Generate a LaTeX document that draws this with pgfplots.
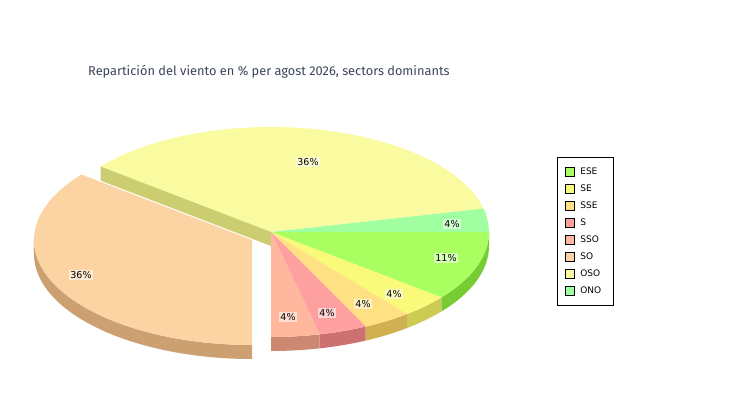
\documentclass[border=0pt]{standalone}
\usepackage{fontspec}
\setmainfont{Fira Sans}
\newfontfamily\lblfont{DejaVu Sans}
\usepackage{pgfplots}
\pgfplotsset{compat=1.18}

% data: percentage per sector (clockwise from east)
\def\vESE{10.71}\def\vSE{3.57}\def\vSSE{3.57}\def\vS{3.57}
\def\vSSO{3.57}\def\vSO{35.71}\def\vOSO{35.71}\def\vONO{3.57}
\pgfmathsetmacro\tot{\vESE+\vSE+\vSSE+\vS+\vSSO+\vSO+\vOSO+\vONO}
\pgfmathsetmacro\aA{0}
\pgfmathsetmacro\aB{\aA+360*\vESE/\tot}
\pgfmathsetmacro\aC{\aB+360*\vSE/\tot}
\pgfmathsetmacro\aD{\aC+360*\vSSE/\tot}
\pgfmathsetmacro\aE{\aD+360*\vS/\tot}
\pgfmathsetmacro\aF{\aE+360*\vSSO/\tot}
\pgfmathsetmacro\aG{\aF+360*\vSO/\tot}
\pgfmathsetmacro\aH{\aG+360*\vOSO/\tot}
\pgfmathsetmacro\aI{360}

\definecolor{tESE}{HTML}{AAFF60}\definecolor{sESE}{HTML}{77CC33}
\definecolor{tSE}{HTML}{FAFA7A}\definecolor{sSE}{HTML}{CCCC55}
\definecolor{tSSE}{HTML}{FFE082}\definecolor{sSSE}{HTML}{D0B050}
\definecolor{tS}{HTML}{FFA0A0}\definecolor{sS}{HTML}{CC7070}
\definecolor{tSSO}{HTML}{FFB89E}\definecolor{sSSO}{HTML}{CC8870}
\definecolor{tSO}{HTML}{FCD3A2}\definecolor{sSO}{HTML}{CCA070}
\definecolor{tOSO}{HTML}{FAFAA0}\definecolor{sOSO}{HTML}{CCCC70}
\definecolor{tONO}{HTML}{A0FFA0}
\definecolor{titlec}{HTML}{3B4558}

\def\cx{271}\def\cy{232}\def\rx{218}\def\ry{105}\def\dep{14}
% top face: #1 start, #2 end, #3 dx, #4 dy, #5 colour
\newcommand\topface[5]{%
  \fill[#5] (axis cs:{\cx+#3},{\cy+#4}) -- (axis cs:{\cx+#3+\rx*cos(#1)},{\cy+#4+\ry*sin(#1)})
    arc[start angle={-#1}, end angle={-#2}, x radius=\rx pt, y radius=\ry pt] -- cycle;}
% rim face
\newcommand\rimface[5]{%
  \fill[#5] (axis cs:{\cx+#3+\rx*cos(#1)},{\cy+#4+\ry*sin(#1)})
    arc[start angle={-#1}, end angle={-#2}, x radius=\rx pt, y radius=\ry pt]
    -- ++(0,-\dep pt)
    arc[start angle={-#2}, end angle={-#1}, x radius=\rx pt, y radius=\ry pt] -- cycle;}

\begin{document}
\begin{tikzpicture}
\begin{axis}[
  scale only axis, width=750pt, height=400pt,
  xmin=0, xmax=750, ymin=0, ymax=400, y dir=reverse,
  hide axis, clip=false,
  legend style={at={(0.7427,0.6075)}, anchor=north west, draw=black, line width=0.6pt,
    font=\lblfont\fontsize{9}{10}\selectfont, inner xsep=7.5pt, inner ysep=8pt,
    row sep=4pt, nodes={inner sep=0pt, text height=9pt, text depth=4pt}},
  legend cell align=left,
  legend image code/.code={\draw[#1, draw=black, line width=0.5pt] (0pt,-4.5pt) rectangle (9pt,4.5pt);},
]
\path (rel axis cs:0,0) rectangle (rel axis cs:1,1);
\addlegendimage{fill=tESE}\addlegendentry{\kern6pt ESE}
\addlegendimage{fill=tSE}\addlegendentry{\kern6pt SE}
\addlegendimage{fill=tSSE}\addlegendentry{\kern6pt SSE}
\addlegendimage{fill=tS}\addlegendentry{\kern6pt S}
\addlegendimage{fill=tSSO}\addlegendentry{\kern6pt SSO}
\addlegendimage{fill=tSO}\addlegendentry{\kern6pt SO}
\addlegendimage{fill=tOSO}\addlegendentry{\kern6pt OSO}
\addlegendimage{fill=tONO}\addlegendentry{\kern6pt ONO\kern5pt}

% back slices
\topface{\aG}{\aH}{0}{0}{tOSO}
\topface{\aH}{\aI}{0}{0}{tONO}
% radial face of OSO exposed by exploded SO
\fill[sOSO] (axis cs:\cx,\cy) -- (axis cs:{\cx+\rx*cos(\aG)},{\cy+\ry*sin(\aG)})
   -- ++(0,-\dep pt) -- (axis cs:\cx,{\cy+\dep}) -- cycle;
% front rims
\rimface{\aA}{\aB}{0}{0}{sESE}
\rimface{\aB}{\aC}{0}{0}{sSE}
\rimface{\aC}{\aD}{0}{0}{sSSE}
\rimface{\aD}{\aE}{0}{0}{sS}
\rimface{\aE}{\aF}{0}{0}{sSSO}
% front tops
\topface{\aA}{\aB}{0}{0}{tESE}
\topface{\aB}{\aC}{0}{0}{tSE}
\topface{\aC}{\aD}{0}{0}{tSSE}
\topface{\aD}{\aE}{0}{0}{tS}
\topface{\aE}{\aF}{0}{0}{tSSO}
% exploded SO
\rimface{\aF}{180}{-19}{8}{sSO}
\topface{\aF}{\aG}{-19}{8}{tSO}

% labels
\tikzset{lbl/.style={fill=white, fill opacity=0.55, text opacity=1, inner xsep=1pt, inner ysep=1pt,
   font=\lblfont\fontsize{9.5}{10}\selectfont}}
\node[lbl] at (axis cs:308,162) {36\%};
\node[lbl] at (axis cs:452,224) {4\%};
\node[lbl] at (axis cs:446,258) {11\%};
\node[lbl] at (axis cs:394,294) {4\%};
\node[lbl] at (axis cs:363,304) {4\%};
\node[lbl] at (axis cs:327,313) {4\%};
\node[lbl] at (axis cs:288,317) {4\%};
\node[lbl] at (axis cs:81,275) {36\%};

\node[anchor=west, text=titlec, inner sep=0pt, font=\fontsize{12.8}{14}\selectfont]
  at (axis cs:88,72) {Repartición del viento en \% per agost 2026, sectors dominants};
\end{axis}
\end{tikzpicture}
\end{document}
